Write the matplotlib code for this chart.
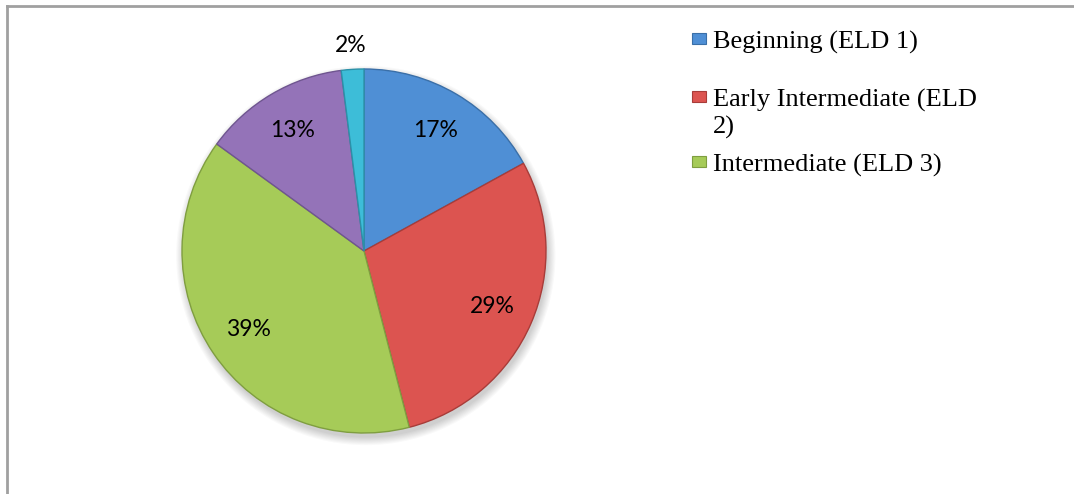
import matplotlib.pyplot as plt
from matplotlib.patches import Rectangle, Circle
import numpy as np

# ELD level distribution
labels = ["Beginning (ELD 1)", "Early Intermediate (ELD 2)", "Intermediate (ELD 3)",
          "Early Advanced (ELD 4)", "Advanced (ELD 5)"]
legend_text = ["Beginning (ELD 1)", "Early Intermediate (ELD\n2)", "Intermediate (ELD 3)"]
shares = [17, 29, 39, 13, 2]
colors = ["#4f8fd5", "#dc5450", "#a6cb58", "#9473b8", "#3dbdd8"]
edges = ["#3a6fa8", "#a83c39", "#7f9e40", "#6f5590", "#2b91a8"]

W, H = 1074, 494
fig = plt.figure(figsize=(W / 100, H / 100), dpi=100)

# chart frame (only top and left lines visible)
fig.add_artist(plt.Line2D([7 / W, 7 / W], [0, 1 - 6 / H], color="#a0a0a0", lw=2))
fig.add_artist(plt.Line2D([7 / W, 1], [1 - 6 / H, 1 - 6 / H], color="#a0a0a0", lw=2))

cx, cy, r = 364, H - 251, 182
ax = fig.add_axes([(cx - r) / W, (cy - r) / H, 2 * r / W, 2 * r / H])

# soft drop shadow
for k in range(8):
    ax.add_patch(Circle((0.01, -0.025), 1.0 + 0.006 * k, color="black",
                        alpha=0.025, zorder=0, lw=0, clip_on=False))

wedges, texts, autotexts = ax.pie(
    shares, colors=colors, startangle=90, counterclock=False, radius=1,
    autopct="%d%%", pctdistance=0.77,
    wedgeprops=dict(linewidth=1.0),
    textprops=dict(fontsize=16.5, family="Lato", color="black"),
)
for w, ec in zip(wedges, edges):
    w.set_edgecolor(ec)
ax.set_xlim(-1, 1)
ax.set_ylim(-1, 1)
ax.set_aspect("equal")
ax.axis("off")

# small slice label sits outside the pie
theta = np.deg2rad((wedges[-1].theta1 + wedges[-1].theta2) / 2)
autotexts[-1].set_position((1.13 * np.cos(theta), 1.13 * np.sin(theta)))

# legend (first three entries shown); marker aligned with the first text line
line_h = 27
baselines = [49, 107, 172]
for txt, yb, c, ec in zip(legend_text, baselines, colors, edges):
    fig.add_artist(Rectangle((692 / W, 1 - (yb - 5) / H), 14 / W, 11 / H,
                             facecolor=c, edgecolor=ec, lw=0.8))
    last = yb + line_h * txt.count("\n")
    fig.text(713 / W, 1 - last / H, txt, family="Liberation Serif",
             fontsize=19, va="baseline", ha="left", linespacing=1.22)

fig.savefig("out.png", dpi=100)
